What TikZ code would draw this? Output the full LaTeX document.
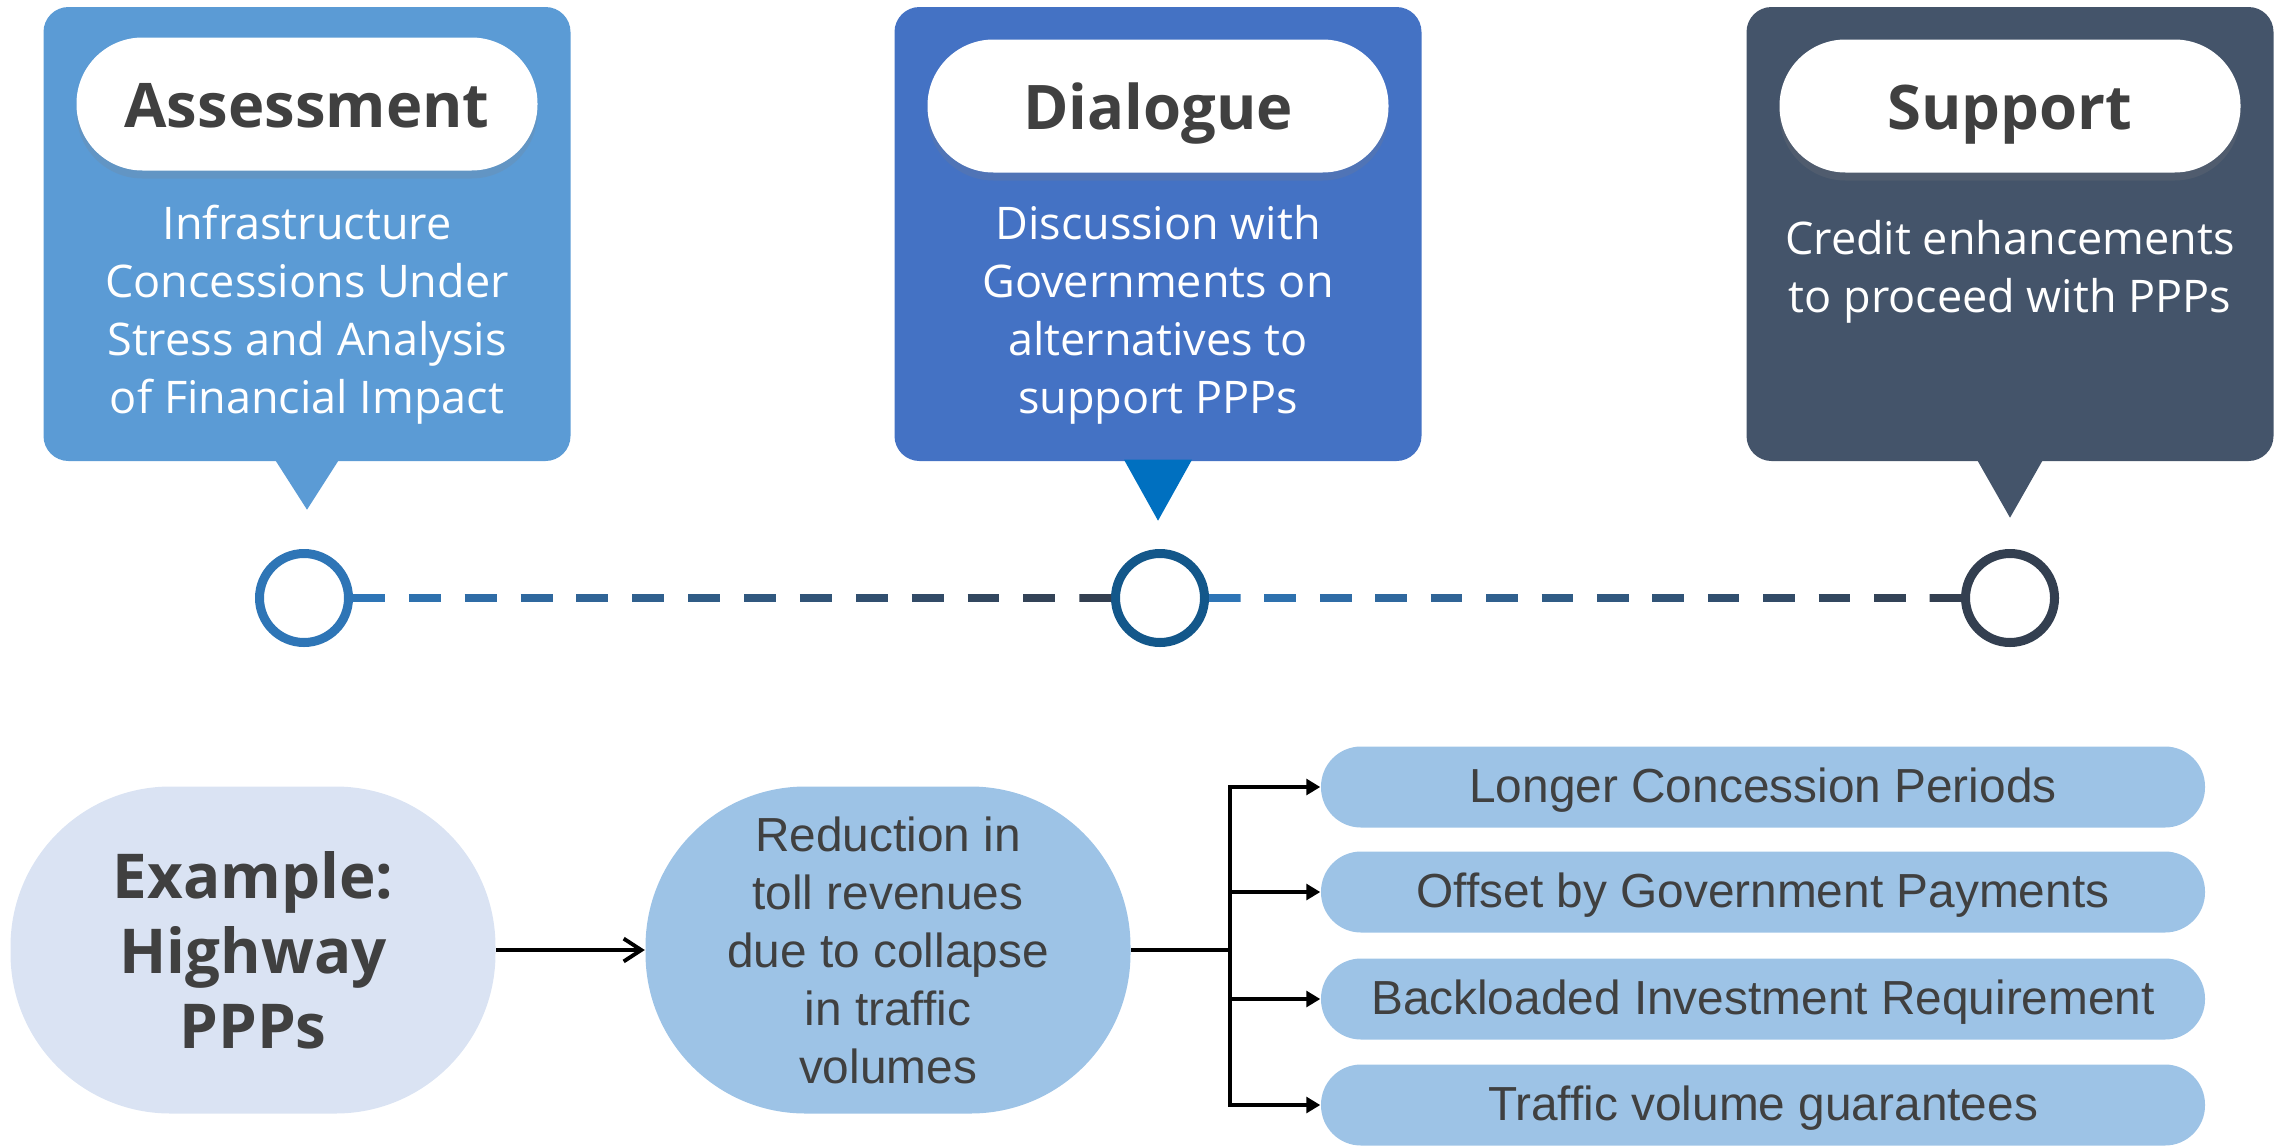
\documentclass[tikz,border=0pt]{standalone}
\usepackage{fontspec}
\setmainfont{Open Sans}
\newfontfamily\arialfont{Liberation Sans}
\usetikzlibrary{calc,shadows,arrows.meta}

\definecolor{assesscol}{HTML}{5B9BD5}
\definecolor{dialoguecol}{HTML}{4472C4}
\definecolor{dialoguetip}{HTML}{0070C0}
\definecolor{supportcol}{HTML}{44546A}
\definecolor{titlegray}{HTML}{404040}
\definecolor{dotA}{HTML}{2E75B6}
\definecolor{dotB}{HTML}{13578A}
\definecolor{dotC}{HTML}{333F50}
\definecolor{palecol}{HTML}{DAE3F3}
\definecolor{lightcol}{HTML}{9DC3E6}

\tikzset{
  callout/.style={rectangle, rounded corners=2.5mm, minimum width=52.7mm,
    minimum height=45.4mm, inner sep=0pt},
  pill/.style={rectangle, rounded corners=6.6mm, fill=white, minimum width=46.1mm,
    minimum height=13.3mm, inner sep=0pt, text=titlegray,
    text height=13.6pt, text depth=0pt,
    font=\fontsize{17.5}{20}\selectfont\bfseries,
    drop shadow={opacity=0.2, shadow xshift=0pt, shadow yshift=-0.8mm}},
  bodytext/.style={align=center, text=white, font=\fontsize{12.8}{16.5}\selectfont},
  dot/.style={circle, draw, line width=2.56pt, fill=white, minimum size=8.9mm, inner sep=0pt},
  dashline/.style={line width=2.2pt},
  blob/.style={rectangle, rounded corners=16mm, minimum width=48.5mm,
    minimum height=32.7mm, inner sep=0pt, align=center, text=titlegray},
  option/.style={rectangle, rounded corners=4mm, fill=lightcol, minimum width=88.4mm,
    minimum height=8.1mm, inner sep=0pt, text=titlegray,
    text height=10pt, text depth=1pt,
    font=\arialfont\fontsize{13.6}{16.5}\selectfont},
  link/.style={line width=1.1pt, black},
}

\begin{document}
\begin{tikzpicture}[x=0.1mm, y=-0.1mm]
  \useasboundingbox (0,0) rectangle (2282,1145);

  % Caixas de cima
  \node[callout, fill=assesscol] (assessbox) at (307,234) {};
  \node[callout, fill=dialoguecol] (dialoguebox) at (1158,234) {};
  \node[callout, fill=supportcol] (supportbox) at (2010,234) {};

  % Pontas das caixas
  \fill[assesscol] (assessbox.south) ++(-32,-2) -- ++(64,0) -- ++(-32,50) -- cycle;
  \fill[dialoguetip] (dialoguebox.south) ++(-34,-2) -- ++(68,0) -- ++(-34,61) -- cycle;
  \fill[supportcol] (supportbox.south) ++(-33,-2) -- ++(66,0) -- ++(-33,58) -- cycle;

  % Titulos
  \node[pill] (assesstitle) at (307,104) {Assessment};
  \node[pill] (dialoguetitle) at (1158,106) {Dialogue};
  \node[pill] (supporttitle) at (2010,106) {Support};

  % Textos
  \node[bodytext] (assesstext) at (307,315)
    {Infrastructure\\Concessions Under\\Stress and Analysis\\of Financial Impact};
  \node[bodytext] (dialoguetext) at (1158,315)
    {Discussion with\\Governments on\\alternatives to\\support PPPs};
  \node[bodytext] (supporttext) at (2010,272)
    {Credit enhancements\\to proceed with PPPs};

  % Linha do tempo
  \node[dot, draw=dotA] (assessdot) at (304,598) {};
  \node[dot, draw=dotB] (dialoguedot) at (1160,598) {};
  \node[dot, draw=dotC] (supportdot) at (2010,598) {};

  \foreach \a/\b in {assessdot/dialoguedot, dialoguedot/supportdot}
    \foreach \i in {0,...,13}{
      \pgfmathsetmacro\s{\i*0.0737}
      \pgfmathsetmacro\e{\s+0.0421}
      \pgfmathtruncatemacro\c{100-\i*100/13}
      \draw[dashline, draw=dotA!\c!dotC]
        ($(\a.east)!\s!(\b.west)$) -- ($(\a.east)!\e!(\b.west)$);
    }

  % Exemplo embaixo
  \node[blob, fill=palecol, font=\fontsize{17.6}{21.3}\selectfont\bfseries]
    (example) at (253,950) {Example:\\Highway\\PPPs};
  \node[blob, fill=lightcol, font=\arialfont\fontsize{13.6}{16.5}\selectfont]
    (reduction) at (888,950)
    {Reduction in\\toll revenues\\due to collapse\\in traffic\\volumes};

  \node[option] (longer) at (1763,787) {Longer Concession Periods};
  \node[option] (offset) at (1763,892) {Offset by Government Payments};
  \node[option] (backload) at (1763,999) {Backloaded Investment Requirement};
  \node[option] (traffic) at (1763,1105) {Traffic volume guarantees};

  % Setas
  \coordinate (fork) at (1230,950);
  \draw[link, -{Straight Barb[length=5pt,width=6.5pt]}] (example) -- (reduction);
  \draw[link] (reduction) -- (fork);
  \draw[link, line cap=rect] (fork |- longer.west) -- (fork |- traffic.west);
  \foreach \n in {longer,offset,backload,traffic}
    \draw[link, -{Triangle[length=4pt,width=4.5pt]}] (fork |- \n.west) -- (\n.west);
\end{tikzpicture}
\end{document}
